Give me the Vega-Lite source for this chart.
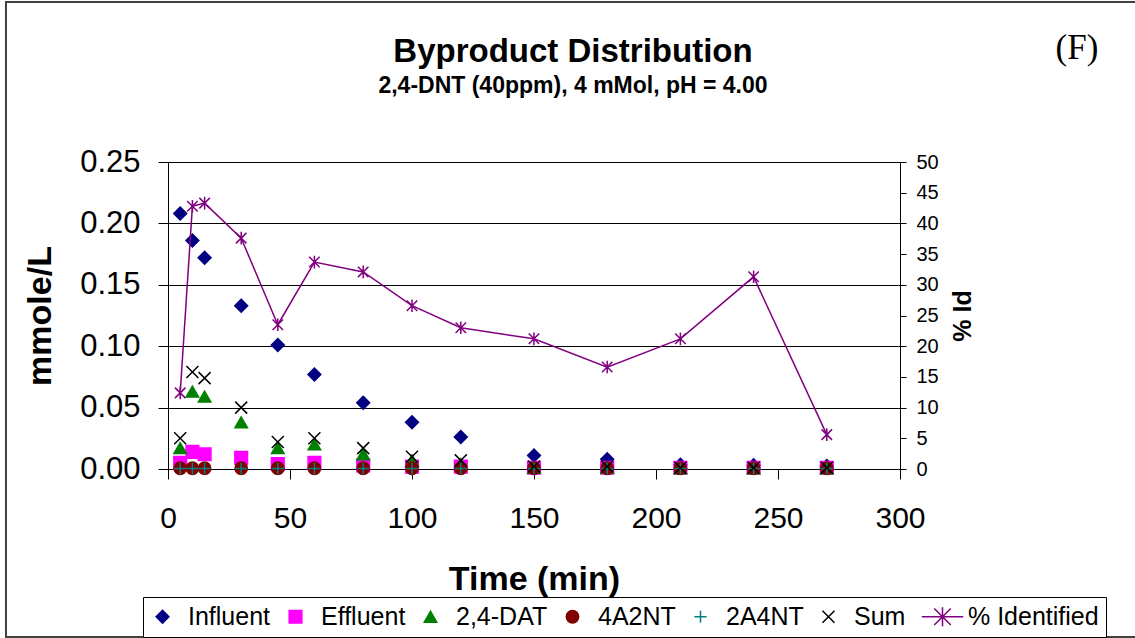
{
  "$schema": "https://vega.github.io/schema/vega-lite/v6.json",
  "width": 732,
  "height": 307,
  "autosize": "none",
  "padding": {"left": 168, "top": 162, "right": 235, "bottom": 169},
  "background": "white",
  "title": {
    "text": "Byproduct Distribution",
    "subtitle": "2,4-DNT (40ppm), 4 mMol, pH = 4.00",
    "font": "Liberation Sans",
    "subtitleFont": "Liberation Sans",
    "fontSize": 33,
    "subtitleFontSize": 23,
    "fontWeight": "bold",
    "subtitleFontWeight": "bold",
    "color": "black",
    "subtitleColor": "black",
    "anchor": "middle",
    "frame": "group",
    "dx": 39,
    "offset": -97,
    "subtitlePadding": 6
  },
  "datasets": {
    "conc": [
      {"t": 5, "series": "Influent", "v": 0.208},
      {"t": 10, "series": "Influent", "v": 0.186},
      {"t": 15, "series": "Influent", "v": 0.172},
      {"t": 30, "series": "Influent", "v": 0.133},
      {"t": 45, "series": "Influent", "v": 0.101},
      {"t": 60, "series": "Influent", "v": 0.077},
      {"t": 80, "series": "Influent", "v": 0.054},
      {"t": 100, "series": "Influent", "v": 0.038},
      {"t": 120, "series": "Influent", "v": 0.026},
      {"t": 150, "series": "Influent", "v": 0.011},
      {"t": 180, "series": "Influent", "v": 0.008},
      {"t": 210, "series": "Influent", "v": 0.0035},
      {"t": 240, "series": "Influent", "v": 0.003},
      {"t": 270, "series": "Influent", "v": 0.0025},
      {"t": 5, "series": "Effluent", "v": 0.005},
      {"t": 10, "series": "Effluent", "v": 0.014},
      {"t": 15, "series": "Effluent", "v": 0.012},
      {"t": 30, "series": "Effluent", "v": 0.009},
      {"t": 45, "series": "Effluent", "v": 0.004},
      {"t": 60, "series": "Effluent", "v": 0.005},
      {"t": 80, "series": "Effluent", "v": 0.003},
      {"t": 100, "series": "Effluent", "v": 0.002},
      {"t": 120, "series": "Effluent", "v": 0.002},
      {"t": 150, "series": "Effluent", "v": 0.001},
      {"t": 180, "series": "Effluent", "v": 0.001},
      {"t": 210, "series": "Effluent", "v": 0.001},
      {"t": 240, "series": "Effluent", "v": 0.001},
      {"t": 270, "series": "Effluent", "v": 0.001},
      {"t": 5, "series": "2,4-DAT", "v": 0.017},
      {"t": 10, "series": "2,4-DAT", "v": 0.063},
      {"t": 15, "series": "2,4-DAT", "v": 0.059},
      {"t": 30, "series": "2,4-DAT", "v": 0.038},
      {"t": 45, "series": "2,4-DAT", "v": 0.017},
      {"t": 60, "series": "2,4-DAT", "v": 0.02},
      {"t": 80, "series": "2,4-DAT", "v": 0.012},
      {"t": 100, "series": "2,4-DAT", "v": 0.007},
      {"t": 120, "series": "2,4-DAT", "v": 0.004},
      {"t": 150, "series": "2,4-DAT", "v": 0.001},
      {"t": 180, "series": "2,4-DAT", "v": 0.001},
      {"t": 210, "series": "2,4-DAT", "v": 0.0005},
      {"t": 240, "series": "2,4-DAT", "v": 0.0005},
      {"t": 270, "series": "2,4-DAT", "v": 0.0005},
      {"t": 5, "series": "4A2NT", "v": 0.0006},
      {"t": 10, "series": "4A2NT", "v": 0.0006},
      {"t": 15, "series": "4A2NT", "v": 0.0006},
      {"t": 30, "series": "4A2NT", "v": 0.0006},
      {"t": 45, "series": "4A2NT", "v": 0.0006},
      {"t": 60, "series": "4A2NT", "v": 0.0006},
      {"t": 80, "series": "4A2NT", "v": 0.0006},
      {"t": 100, "series": "4A2NT", "v": 0.0006},
      {"t": 120, "series": "4A2NT", "v": 0.0006},
      {"t": 150, "series": "4A2NT", "v": 0.0006},
      {"t": 180, "series": "4A2NT", "v": 0.0006},
      {"t": 210, "series": "4A2NT", "v": 0.0006},
      {"t": 240, "series": "4A2NT", "v": 0.0006},
      {"t": 270, "series": "4A2NT", "v": 0.0006},
      {"t": 5, "series": "2A4NT", "v": 0.0004},
      {"t": 10, "series": "2A4NT", "v": 0.0004},
      {"t": 15, "series": "2A4NT", "v": 0.0004},
      {"t": 30, "series": "2A4NT", "v": 0.0004},
      {"t": 45, "series": "2A4NT", "v": 0.0004},
      {"t": 60, "series": "2A4NT", "v": 0.0004},
      {"t": 80, "series": "2A4NT", "v": 0.0004},
      {"t": 100, "series": "2A4NT", "v": 0.0004},
      {"t": 120, "series": "2A4NT", "v": 0.0004},
      {"t": 150, "series": "2A4NT", "v": 0.0004},
      {"t": 180, "series": "2A4NT", "v": 0.0004},
      {"t": 210, "series": "2A4NT", "v": 0.0004},
      {"t": 240, "series": "2A4NT", "v": 0.0004},
      {"t": 270, "series": "2A4NT", "v": 0.0004},
      {"t": 5, "series": "Sum", "v": 0.025},
      {"t": 10, "series": "Sum", "v": 0.079},
      {"t": 15, "series": "Sum", "v": 0.074},
      {"t": 30, "series": "Sum", "v": 0.05},
      {"t": 45, "series": "Sum", "v": 0.022},
      {"t": 60, "series": "Sum", "v": 0.025},
      {"t": 80, "series": "Sum", "v": 0.017},
      {"t": 100, "series": "Sum", "v": 0.01},
      {"t": 120, "series": "Sum", "v": 0.007},
      {"t": 150, "series": "Sum", "v": 0.002},
      {"t": 180, "series": "Sum", "v": 0.002},
      {"t": 210, "series": "Sum", "v": 0.001},
      {"t": 240, "series": "Sum", "v": 0.001},
      {"t": 270, "series": "Sum", "v": 0.001}
    ],
    "pct": [
      {"t": 5, "series": "% Identified", "pct": 12.4},
      {"t": 10, "series": "% Identified", "pct": 42.8},
      {"t": 15, "series": "% Identified", "pct": 43.3},
      {"t": 30, "series": "% Identified", "pct": 37.6},
      {"t": 45, "series": "% Identified", "pct": 23.5},
      {"t": 60, "series": "% Identified", "pct": 33.7},
      {"t": 80, "series": "% Identified", "pct": 32.1},
      {"t": 100, "series": "% Identified", "pct": 26.6},
      {"t": 120, "series": "% Identified", "pct": 23.0},
      {"t": 150, "series": "% Identified", "pct": 21.2},
      {"t": 180, "series": "% Identified", "pct": 16.6},
      {"t": 210, "series": "% Identified", "pct": 21.2},
      {"t": 240, "series": "% Identified", "pct": 31.3},
      {"t": 270, "series": "% Identified", "pct": 5.6}
    ],
    "deco": [
      {"label": "(F)"}
    ]
  },
  "layer": [
    {
      "data": {"name": "deco"},
      "mark": {"type": "rect", "fill": "transparent", "stroke": "#404040", "strokeWidth": 2, "clip": false},
      "encoding": {
        "x": {"datum": -66.4, "type": "quantitative", "scale": {"domain": [0, 300], "nice": false, "zero": false}},
        "x2": {"datum": 398},
        "y": {"datum": 0.3803, "type": "quantitative", "scale": {"domain": [0, 0.25], "nice": false}, "axis": null},
        "y2": {"datum": -0.1368}
      }
    },
    {
      "data": {"name": "conc"},
      "mark": {"type": "point", "filled": true, "strokeWidth": 1.5, "opacity": 1},
      "encoding": {
        "x": {
          "field": "t", "type": "quantitative",
          "scale": {"domain": [0, 300], "nice": false, "zero": false},
          "axis": {
            "values": [0, 50, 100, 150, 200, 250, 300],
            "title": "Time (min)",
            "labelFontSize": 30, "titleFontSize": 34,
            "tickSize": 10, "labelPadding": 24, "titlePadding": 29,
            "grid": false, "labelFlush": false, "labelOverlap": false
          }
        },
        "y": {
          "field": "v", "type": "quantitative",
          "scale": {"domain": [0, 0.25], "nice": false},
          "axis": {
            "orient": "left",
            "values": [0, 0.05, 0.1, 0.15, 0.2, 0.25],
            "format": ".2f",
            "title": "mmole/L",
            "labelFontSize": 31, "titleFontSize": 34,
            "tickSize": 10, "labelPadding": 18, "titlePadding": 22,
            "grid": true, "gridColor": "black", "gridOpacity": 1,
            "labelFlush": false
          }
        },
        "color": {
          "field": "series", "type": "nominal",
          "scale": {
            "domain": ["Influent", "Effluent", "2,4-DAT", "4A2NT", "2A4NT", "Sum", "% Identified"],
            "range": ["#000080", "#FF00FF", "#008000", "#800000", "transparent", "transparent", "transparent"]
          },
          "legend": {"title": null, "orient": "none", "direction": "horizontal", "legendX": -25, "legendY": 435}
        },
        "shape": {
          "field": "series", "type": "nominal",
          "scale": {
            "domain": ["Influent", "Effluent", "2,4-DAT", "4A2NT", "2A4NT", "Sum", "% Identified"],
            "range": ["diamond", "square", "triangle-up", "circle", "M-1,0H1M0,-1V1", "M-1,-1L1,1M-1,1L1,-1", "M-3.5,0H3.5M-1.4,-1.4L1.4,1.4M-1.4,1.4L1.4,-1.4M0,-1.6V1.6"]
          },
          "legend": {"title": null, "orient": "none", "direction": "horizontal", "legendX": -25, "legendY": 435}
        },
        "stroke": {
          "field": "series", "type": "nominal",
          "scale": {
            "domain": ["Influent", "Effluent", "2,4-DAT", "4A2NT", "2A4NT", "Sum", "% Identified"],
            "range": ["#000080", "#FF00FF", "#008000", "#800000", "#008080", "#000000", "#800080"]
          },
          "legend": null
        },
        "size": {
          "field": "series", "type": "nominal",
          "scale": {
            "domain": ["Influent", "Effluent", "2,4-DAT", "4A2NT", "2A4NT", "Sum", "% Identified"],
            "range": [165, 140, 160, 115, 100, 100, 110]
          },
          "legend": null
        }
      }
    },
    {
      "data": {"name": "pct"},
      "encoding": {
        "x": {"field": "t", "type": "quantitative"},
        "y": {
          "field": "pct", "type": "quantitative",
          "scale": {"domain": [0, 50], "nice": false},
          "axis": {
            "orient": "right",
            "values": [0, 5, 10, 15, 20, 25, 30, 35, 40, 45, 50],
            "title": "% Id",
            "labelFontSize": 20, "titleFontSize": 25,
            "tickSize": 6, "labelPadding": 10, "titlePadding": 12,
            "titleAngle": 270, "titleBaseline": "top",
            "grid": false, "labelFlush": false
          }
        }
      },
      "layer": [
        {
          "mark": {"type": "line", "color": "#800080", "strokeWidth": 1.5}
        },
        {
          "mark": {
            "type": "point",
            "shape": "M-1,-1L1,1M-1,1L1,-1M0,-1.2V1.2",
            "size": 110,
            "filled": false,
            "color": "#800080",
            "fill": "transparent",
            "strokeWidth": 1.5,
            "opacity": 1
          }
        }
      ]
    },
    {
      "data": {"name": "deco"},
      "mark": {"type": "text", "font": "Liberation Serif", "fontSize": 35, "baseline": "middle", "align": "center", "color": "black", "clip": false},
      "encoding": {
        "x": {"datum": 372.5, "type": "quantitative"},
        "y": {"datum": 0.3428, "type": "quantitative", "scale": {"domain": [0, 0.25], "nice": false}, "axis": null},
        "text": {"field": "label"}
      }
    }
  ],
  "resolve": {"scale": {"y": "independent"}, "axis": {"y": "independent"}},
  "config": {
    "view": {"stroke": null},
    "font": "Liberation Sans",
    "axis": {
      "domainColor": "black", "tickColor": "black", "labelColor": "black", "titleColor": "black",
      "labelFont": "Liberation Sans", "titleFont": "Liberation Sans", "titleFontWeight": "bold",
      "domainWidth": 1, "tickWidth": 1
    },
    "legend": {
      "labelFont": "Liberation Sans", "labelFontSize": 25, "labelColor": "black",
      "symbolSize": 100, "symbolStrokeWidth": 1.5, "labelOffset": 13, "columnPadding": 12,
      "padding": 7, "strokeColor": "black", "fillColor": "white", "labelLimit": 400
    }
  }
}
